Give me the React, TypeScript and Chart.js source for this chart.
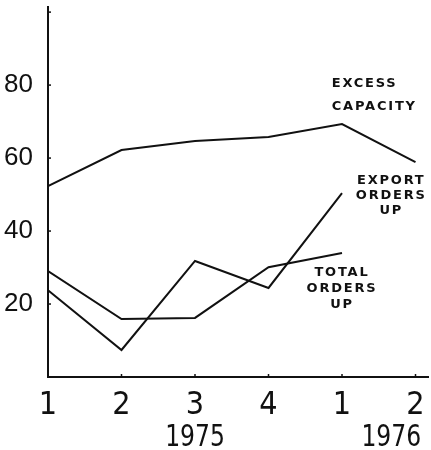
import React, { useEffect, useRef } from "react";
import { Chart, registerables } from "chart.js";

Chart.register(...registerables);

const quarterLabels = ["1", "2", "3", "4", "1", "2"];
const yearLabels = ["1975", "1976"];
const yearCenters = [2.0, 4.67];
const yTickValues = [20, 40, 60, 80];

const excessCapacity = [52.3, 62.2, 64.7, 65.8, 69.3, 58.9];
const exportOrdersUp = [23.8, 7.4, 31.8, 24.4, 50.4];
const totalOrdersUp = [29, 15.9, 16.2, 30.1, 34];

const noteExcess = ["EXCESS", "CAPACITY"];
const noteExport = ["EXPORT", "ORDERS", "UP"];
const noteTotal = ["TOTAL", "ORDERS", "UP"];

const INK = "#111";

const toPoints = (arr: number[]) => arr.map((v, i) => ({ x: i, y: v }));

const extrasPlugin = {
  id: "extras",
  afterDraw(chart: any) {
    const ctx = chart.ctx;
    const xs = chart.scales.x;
    const ys = chart.scales.y;
    ctx.save();
    ctx.strokeStyle = INK;
    ctx.lineWidth = 1.5;
    // small inward tick marks
    for (let i = 0; i < quarterLabels.length; i++) {
      const px = xs.getPixelForValue(i);
      ctx.beginPath();
      ctx.moveTo(px, ys.bottom);
      ctx.lineTo(px, ys.bottom - 3);
      ctx.stroke();
    }
    for (let v = 0; v <= 100; v += 20) {
      const py = ys.getPixelForValue(v);
      ctx.beginPath();
      ctx.moveTo(xs.left, py);
      ctx.lineTo(xs.left + 3, py);
      ctx.stroke();
    }
    // year labels (condensed)
    ctx.fillStyle = INK;
    ctx.font = '30px "Liberation Sans Narrow", "DejaVu Sans Condensed", sans-serif';
    ctx.textAlign = "center";
    ctx.textBaseline = "alphabetic";
    yearLabels.forEach((t, i) => {
      const cx = xs.getPixelForValue(yearCenters[i]);
      ctx.save();
      ctx.translate(cx, 446);
      ctx.scale(0.87, 1);
      ctx.fillText(t, 0, 0);
      ctx.restore();
    });
    // handwritten-style notes
    ctx.font = 'bold 13px "DejaVu Sans", sans-serif';
    (ctx as any).letterSpacing = "1.8px";
    const drawNote = (lines: string[], xv: number, yv: number, align: CanvasTextAlign, gap: number) => {
      ctx.textAlign = align;
      const px = xs.getPixelForValue(xv);
      const py = ys.getPixelForValue(yv);
      lines.forEach((l, k) => ctx.fillText(l, px, py + k * gap));
    };
    drawNote(noteExcess, 3.86, 79.5, "left", 23);
    drawNote(noteExport, 4.67, 53, "center", 15);
    drawNote(noteTotal, 4.0, 27.6, "center", 16);
    ctx.restore();
  },
};

export default function App() {
  const ref = useRef<HTMLCanvasElement>(null);
  useEffect(() => {
    document.body.style.margin = "0";
    const ds = (data: number[]) => ({
      data: toPoints(data),
      borderColor: INK,
      borderWidth: 2,
      pointRadius: 0,
      tension: 0,
      fill: false,
    });
    const chart = new Chart(ref.current!, {
      type: "line",
      data: {
        datasets: [ds(excessCapacity), ds(exportOrdersUp), ds(totalOrdersUp)],
      },
      options: {
        animation: false,
        responsive: false,
        layout: { padding: { top: 7, right: 3, left: 0, bottom: 0 } },
        plugins: { legend: { display: false }, tooltip: { enabled: false } },
        scales: {
          x: {
            type: "linear",
            min: 0,
            max: 5.17,
            grid: { display: false, drawTicks: false },
            border: { display: true, width: 2, color: INK },
            afterBuildTicks: (s: any) => {
              s.ticks = quarterLabels.map((_, i) => ({ value: i }));
            },
            afterFit: (s: any) => {
              s.height = 73;
              s.paddingLeft = 0;
              s.paddingRight = 0;
            },
            ticks: {
              autoSkip: false,
              maxRotation: 0,
              padding: 9,
              color: INK,
              font: { family: '"Liberation Sans Narrow", "DejaVu Sans Condensed", sans-serif', size: 32 },
              callback: (v: any) => quarterLabels[v] ?? "",
            },
          },
          y: {
            min: 0,
            max: 101.4,
            grid: { display: false, drawTicks: false },
            border: { display: true, width: 2, color: INK },
            afterBuildTicks: (s: any) => {
              s.ticks = yTickValues.map((v) => ({ value: v }));
            },
            afterFit: (s: any) => {
              s.width = 48;
              s.paddingTop = 0;
              s.paddingBottom = 0;
            },
            ticks: {
              padding: 15,
              color: INK,
              font: { family: '"Liberation Sans", Arial, sans-serif', size: 26 },
            },
          },
        },
      },
      plugins: [extrasPlugin],
    });
    return () => chart.destroy();
  }, []);
  return <canvas ref={ref} width={431} height={450} style={{ display: "block" }} />;
}
